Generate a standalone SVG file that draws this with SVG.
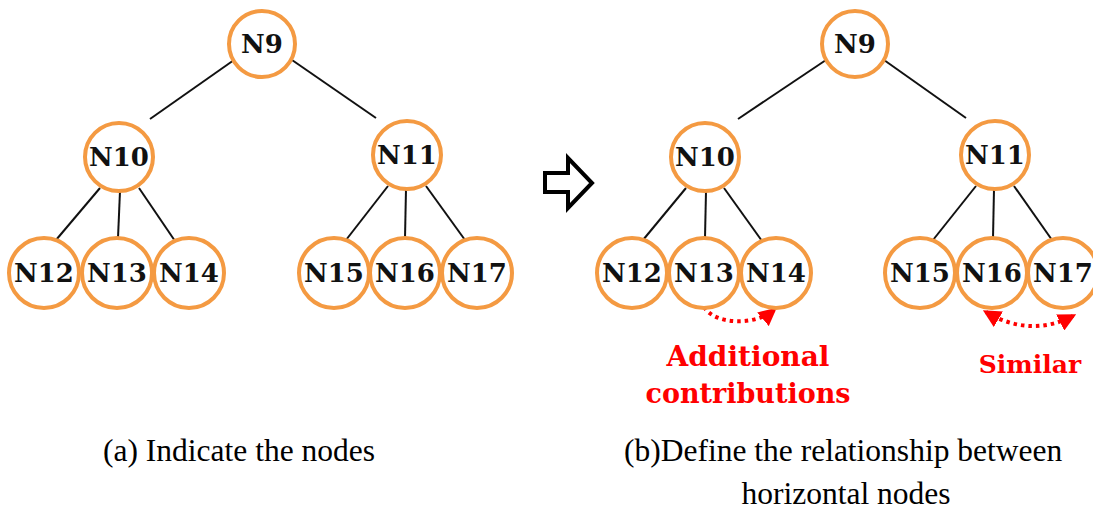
<svg xmlns="http://www.w3.org/2000/svg" width="1093" height="509" viewBox="0 0 1093 509">
  <style>
    .node circle { fill: #ffffff; stroke: #F49A42; stroke-width: 4; }
    .node text { font-family: "DejaVu Serif", "Liberation Serif", serif; font-weight: bold; font-size: 26px; fill: #111; text-anchor: middle; dominant-baseline: central; }
    .edge { stroke: #111; stroke-width: 2; fill: none; }
    .rel { stroke: #FF0000; stroke-width: 4; stroke-dasharray: 3.5 4; fill: none; }
    .note { font-family: "DejaVu Serif", "Liberation Serif", serif; font-weight: bold; fill: #FF0000; text-anchor: middle; }
    .caption { font-family: "Liberation Serif", "Times New Roman", serif; font-size: 31.5px; fill: #000; }
  </style>
  <defs>
    <marker id="redHead" viewBox="0 0 10 10" refX="8" refY="5" markerWidth="4.5" markerHeight="4.5" orient="auto-start-reverse" markerUnits="strokeWidth">
      <path d="M0,0 L10,5 L0,10 z" fill="#FF0000"/>
    </marker>
  </defs>

  <!-- tree edges -->
  <g id="connectors">
    <line class="edge" x1="234" y1="60" x2="150" y2="119"/>
    <line class="edge" x1="292" y1="60" x2="376" y2="118"/>
    <line class="edge" x1="100" y1="188" x2="56" y2="240"/>
    <line class="edge" x1="120" y1="191" x2="118" y2="238"/>
    <line class="edge" x1="139" y1="188" x2="175" y2="241"/>
    <line class="edge" x1="388" y1="186" x2="346" y2="240"/>
    <line class="edge" x1="406" y1="189" x2="405" y2="238"/>
    <line class="edge" x1="426" y1="186" x2="465" y2="240"/>

    <line class="edge" x1="826" y1="60" x2="738" y2="119"/>
    <line class="edge" x1="884" y1="60" x2="966" y2="118"/>
    <line class="edge" x1="686" y1="188" x2="643" y2="240"/>
    <line class="edge" x1="706" y1="191" x2="705" y2="238"/>
    <line class="edge" x1="724" y1="188" x2="762" y2="241"/>
    <line class="edge" x1="976" y1="186" x2="933" y2="240"/>
    <line class="edge" x1="994" y1="189" x2="993" y2="238"/>
    <line class="edge" x1="1014" y1="186" x2="1052" y2="240"/>

    <!-- horizontal relationships -->
    <path class="rel" d="M704,307 C715,325 755,326 774,310" marker-end="url(#redHead)"/>
    <path class="rel" d="M986,312 Q1030,338 1073,316" marker-start="url(#redHead)" marker-end="url(#redHead)"/>
  </g>

  <!-- left tree -->
  <g id="a-N9" class="node"><circle cx="262" cy="44" r="33"/><text x="262" y="44">N9</text></g>
  <g id="a-N10" class="node"><circle cx="119" cy="157" r="34"/><text x="119" y="157">N10</text></g>
  <g id="a-N11" class="node"><circle cx="407" cy="155" r="34"/><text x="407" y="155">N11</text></g>
  <g id="a-N12" class="node"><circle cx="44" cy="273" r="35"/><text x="44" y="273">N12</text></g>
  <g id="a-N13" class="node"><circle cx="117" cy="273" r="35"/><text x="117" y="273">N13</text></g>
  <g id="a-N14" class="node"><circle cx="189" cy="273" r="35"/><text x="189" y="273">N14</text></g>
  <g id="a-N15" class="node"><circle cx="334" cy="273" r="35"/><text x="334" y="273">N15</text></g>
  <g id="a-N16" class="node"><circle cx="405" cy="273" r="35"/><text x="405" y="273">N16</text></g>
  <g id="a-N17" class="node"><circle cx="477" cy="273" r="35"/><text x="477" y="273">N17</text></g>

  <!-- transition arrow -->
  <path id="transition" d="M545,173 L568,173 L568,158 L592,183 L568,208 L568,192 L545,192 Z" fill="#fff" stroke="#000" stroke-width="4" stroke-linejoin="miter"/>

  <!-- right tree -->
  <g id="b-N9" class="node"><circle cx="855" cy="44" r="33"/><text x="855" y="44">N9</text></g>
  <g id="b-N10" class="node"><circle cx="705" cy="157" r="34"/><text x="705" y="157">N10</text></g>
  <g id="b-N11" class="node"><circle cx="995" cy="155" r="34"/><text x="995" y="155">N11</text></g>
  <g id="b-N12" class="node"><circle cx="632" cy="273" r="35"/><text x="632" y="273">N12</text></g>
  <g id="b-N13" class="node"><circle cx="704" cy="273" r="35"/><text x="704" y="273">N13</text></g>
  <g id="b-N14" class="node"><circle cx="776" cy="273" r="35"/><text x="776" y="273">N14</text></g>
  <g id="b-N15" class="node"><circle cx="920" cy="273" r="35"/><text x="920" y="273">N15</text></g>
  <g id="b-N16" class="node"><circle cx="992" cy="273" r="35"/><text x="992" y="273">N16</text></g>
  <g id="b-N17" class="node"><circle cx="1063" cy="273" r="35"/><text x="1063" y="273">N17</text></g>

  <!-- annotations -->
  <text class="note" x="748" y="366" font-size="28">Additional</text>
  <text class="note" x="748" y="403" font-size="27">contributions</text>
  <text class="note" x="1030" y="373" font-size="25">Similar</text>

  <!-- captions -->
  <text class="caption" x="103" y="461">(a) Indicate the nodes</text>
  <text class="caption" x="624" y="461">(b)Define the relationship between</text>
  <text class="caption" x="846" y="504" text-anchor="middle">horizontal nodes</text>
</svg>
